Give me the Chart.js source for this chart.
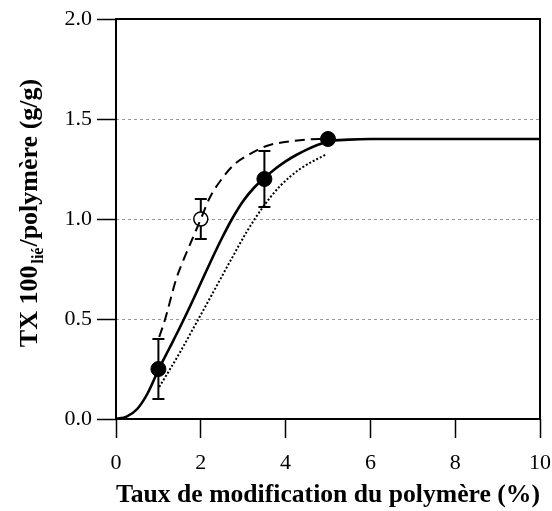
<!DOCTYPE html>
<html><head><meta charset="utf-8">
<script src="https://cdn.jsdelivr.net/npm/chart.js@4.4.0/dist/chart.umd.min.js"></script>
<style>html,body{margin:0;padding:0;background:#fff;}#wrap{width:552px;height:511px;}</style>
</head><body><div id="wrap"><canvas id="c" width="552" height="511"></canvas></div>
<script>
// ---- data ----
const xTickValues = [0, 2, 4, 6, 8, 10];
const yTickValues = [0, 0.5, 1.0, 1.5, 2.0];

const solidX = [0, 0.25, 0.5, 0.75, 1.0, 1.25, 1.5, 1.75, 2.0, 2.25, 2.5, 2.75, 3.0, 3.25, 3.5, 3.75, 4.0, 4.25, 4.5, 4.75, 5.0, 5.5, 6.0, 7.0, 8.0, 9.0, 10.0];
const solidY = [0, 0.012, 0.05, 0.13, 0.245, 0.35, 0.455, 0.565, 0.68, 0.795, 0.905, 1.005, 1.09, 1.155, 1.205, 1.25, 1.288, 1.32, 1.347, 1.37, 1.388, 1.397, 1.4, 1.4, 1.4, 1.4, 1.4];

const dashedX = [1.02, 1.16, 1.42, 1.6, 1.8, 2.0, 2.22, 2.53, 2.8, 3.08, 3.55, 4.18, 4.8, 5.0];
const dashedY = [0.41, 0.5, 0.70, 0.80, 0.90, 1.0, 1.11, 1.21, 1.275, 1.315, 1.365, 1.39, 1.40, 1.40];

const dottedX = [1.02, 1.5, 1.97, 2.45, 2.71, 3.08, 3.45, 3.87, 4.34, 4.97];
const dottedY = [0.16, 0.33, 0.51, 0.695, 0.795, 0.935, 1.055, 1.165, 1.25, 1.325];

const filledX = [1.0, 3.5, 5.0];
const filledY = [0.25, 1.2, 1.4];
const filledErr = [0.15, 0.14, 0.02];

const openX = [2.0];
const openY = [1.0];
const openErr = [0.1];

const xTitle = 'Taux de modification du polymère (%)';
const yTitleMain = 'TX 100';
const yTitleSub = 'lié';
const yTitleRest = '/polymère (g/g)';

// ---- helpers ----
const pts = (xs, ys) => xs.map((x, i) => ({x: x, y: ys[i]}));
const FONT = "'Liberation Serif', 'DejaVu Serif', serif";

const errorBars = {
  id: 'errorBars',
  beforeDatasetsDraw(chart) {
    const ctx = chart.ctx, xs = chart.scales.x, ys = chart.scales.y;
    const groups = [[filledX, filledY, filledErr], [openX, openY, openErr]];
    ctx.save();
    ctx.strokeStyle = '#000';
    ctx.lineWidth = 2;
    groups.forEach(([gx, gy, ge]) => {
      gx.forEach((x, i) => {
        const px = xs.getPixelForValue(x);
        const t = ys.getPixelForValue(gy[i] + ge[i]);
        const b = ys.getPixelForValue(gy[i] - ge[i]);
        ctx.beginPath();
        ctx.moveTo(px, t); ctx.lineTo(px, b);
        ctx.moveTo(px - 6, t); ctx.lineTo(px + 6, t);
        ctx.moveTo(px - 6, b); ctx.lineTo(px + 6, b);
        ctx.stroke();
      });
    });
    ctx.restore();
  }
};

const frameAndTitle = {
  id: 'frameAndTitle',
  afterDraw(chart) {
    const ctx = chart.ctx, a = chart.chartArea;
    ctx.save();
    ctx.strokeStyle = '#000';
    ctx.lineWidth = 2;
    ctx.strokeRect(a.left, a.top, a.right - a.left, a.bottom - a.top);
    // y title with subscript
    ctx.translate(28, 213);
    ctx.rotate(-Math.PI / 2);
    ctx.fillStyle = '#000';
    ctx.textBaseline = 'alphabetic';
    ctx.textAlign = 'left';
    const fMain = "bold 26px " + FONT, fSub = "bold 16px " + FONT;
    ctx.font = fMain; const w1 = ctx.measureText(yTitleMain).width;
    ctx.font = fSub; const w2 = ctx.measureText(yTitleSub).width;
    ctx.font = fMain; const w3 = ctx.measureText(yTitleRest).width;
    let x0 = -(w1 + w2 + 3 + w3) / 2;
    const base = 9;
    ctx.font = fMain; ctx.fillText(yTitleMain, x0, base); x0 += w1 + 2;
    ctx.font = fSub; ctx.fillText(yTitleSub, x0, base + 6); x0 += w2 + 1;
    ctx.font = fMain; ctx.fillText(yTitleRest, x0, base);
    ctx.restore();
  }
};

new Chart(document.getElementById('c'), {
  type: 'scatter',
  data: {
    datasets: [
      { label: 'filled', data: pts(filledX, filledY), order: 0, showLine: false,
        pointRadius: 7.5, pointBackgroundColor: '#000', pointBorderColor: '#000', pointBorderWidth: 1 },
      { label: 'solid', data: pts(solidX, solidY), order: 1, showLine: true, pointRadius: 0,
        borderColor: '#000', borderWidth: 2.6, cubicInterpolationMode: 'monotone', fill: false },
      { label: 'dashed', data: pts(dashedX, dashedY), order: 2, showLine: true, pointRadius: 0,
        borderColor: '#000', borderWidth: 2, borderDash: [10, 6], cubicInterpolationMode: 'monotone', fill: false },
      { label: 'dotted', data: pts(dottedX, dottedY), order: 3, showLine: true, pointRadius: 0,
        borderColor: '#000', borderWidth: 2, borderDash: [2, 2], cubicInterpolationMode: 'monotone', fill: false },
      { label: 'open', data: pts(openX, openY), order: 4, showLine: false,
        pointRadius: 7, pointBackgroundColor: '#fff', pointBorderColor: '#000', pointBorderWidth: 1.5 }
    ]
  },
  options: {
    responsive: false,
    animation: false,
    devicePixelRatio: 1,
    layout: { padding: { left: 0, top: 19, right: 12, bottom: 0 } },
    plugins: { legend: { display: false }, tooltip: { enabled: false } },
    scales: {
      x: {
        type: 'linear', min: 0, max: 10,
        afterFit: s => { s.height = 92; s.paddingLeft = 0; s.paddingRight = 0; },
        afterBuildTicks: s => { s.ticks = xTickValues.map(v => ({value: v})); },
        ticks: { color: '#000', padding: 12, font: { family: FONT, size: 22 }, callback: v => String(v) },
        grid: { drawOnChartArea: false, tickLength: 19, tickColor: '#000', tickWidth: 1.5 },
        border: { display: false },
        title: { display: true, text: xTitle, color: '#000',
                 font: { family: FONT, size: 26, weight: 'bold' }, padding: { top: 0, bottom: 0 } }
      },
      y: {
        type: 'linear', min: 0, max: 2,
        afterFit: s => { s.width = 116; s.paddingTop = 0; s.paddingBottom = 0; },
        afterBuildTicks: s => { s.ticks = yTickValues.map(v => ({value: v})); },
        ticks: { color: '#000', padding: 5, font: { family: FONT, size: 22 }, callback: v => Number(v).toFixed(1) },
        grid: {
          color: c => (c.tick && (c.tick.value === 0 || c.tick.value === 2)) ? 'rgba(0,0,0,0)' : '#9a9a9a',
          lineWidth: 1, tickLength: 19, tickColor: '#000', tickWidth: 1.5, tickBorderDash: []
        },
        border: { display: false, dash: [3, 3] }
      }
    }
  },
  plugins: [errorBars, frameAndTitle]
});
</script>
</body></html>
